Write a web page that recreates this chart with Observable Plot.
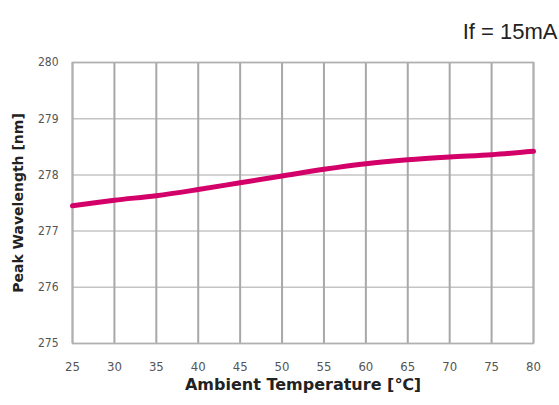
<!DOCTYPE html>
<html><head><meta charset="utf-8">
<script src="https://cdn.jsdelivr.net/npm/d3@7"></script>
<script src="https://cdn.jsdelivr.net/npm/@observablehq/plot@0.6"></script>
<style>
body{margin:0;background:#fff;}
#chart svg{display:block;}
</style>
</head><body><div id="chart"></div>
<script>
const temps = [25, 30, 35, 40, 45, 50, 55, 60, 65, 70, 75, 80];
const wavelength = [277.45, 277.55, 277.63, 277.74, 277.86, 277.98, 278.1, 278.2, 278.27, 278.32, 278.36, 278.42];
const xTicks = [25, 30, 35, 40, 45, 50, 55, 60, 65, 70, 75, 80];
const yTicks = [275, 276, 277, 278, 279, 280];
const conditionLabel = "If = 15mA";
const xLabel = "Ambient Temperature [℃]";
const yLabel = "Peak Wavelength [nm]";

const data = temps.map((t, i) => ({t, w: wavelength[i]}));

const chart = Plot.plot({
  width: 559, height: 405,
  marginLeft: 72, marginRight: 26, marginTop: 62, marginBottom: 62,
  style: {fontFamily: "'DejaVu Sans Condensed', 'Liberation Sans', sans-serif", background: "#fff"},
  x: {domain: [25, 80]},
  y: {domain: [275, 280]},
  marks: [
    Plot.gridY(yTicks, {stroke: "#c4c4c4", strokeOpacity: 1, strokeWidth: 1.5}),
    Plot.gridX(xTicks, {stroke: "#a8a8a8", strokeOpacity: 1, strokeWidth: 2}),
    Plot.frame({stroke: "#b0b0b0", strokeWidth: 1.5}),
    Plot.axisX(xTicks, {tickSize: 0, tickPadding: 18, fontSize: 13, fill: "#555", tickFormat: "d",
      label: null}),
    Plot.axisY(yTicks, {tickSize: 0, tickPadding: 14, fontSize: 12, fill: "#555", tickFormat: "d",
      label: null}),
    Plot.text([xLabel], {frameAnchor: "bottom", dy: 46, fontSize: 16, fontWeight: "bold", fill: "#222", fontFamily: "'DejaVu Sans', sans-serif"}),
    Plot.text([yLabel], {frameAnchor: "left", dx: -54, rotate: -90, textAnchor: "middle", fontSize: 14, fontWeight: "bold", fill: "#222", fontFamily: "'DejaVu Sans', sans-serif"}),
    Plot.text([conditionLabel], {frameAnchor: "top-right", dx: 24, dy: -39, fontSize: 22, fill: "#222", fontFamily: "'Liberation Sans', Arial, sans-serif", textAnchor: "end"}),
    Plot.line(data, {x: "t", y: "w", stroke: "#d4006a", strokeWidth: 5, curve: "monotone-x"})
  ]
});
document.getElementById("chart").appendChild(chart);
</script>
</body></html>
